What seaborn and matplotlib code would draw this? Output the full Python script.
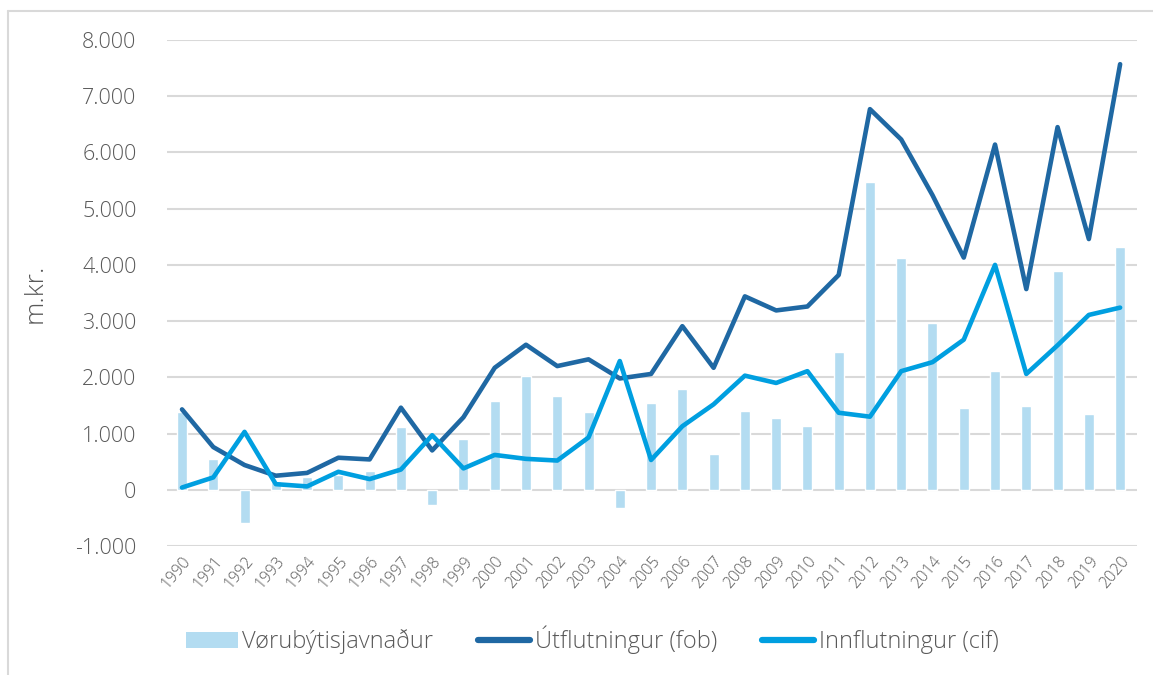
import numpy as np
import pandas as pd
import matplotlib
matplotlib.use("Agg")
import matplotlib.pyplot as plt
import seaborn as sns
from matplotlib.ticker import FuncFormatter
from matplotlib.lines import Line2D
from matplotlib.patches import Patch

years = [str(y) for y in range(1990, 2021)]
export_fob = [1430, 760, 440, 250, 300, 570, 540, 1460, 700, 1290,
              2170, 2580, 2200, 2320, 1980, 2060, 2910, 2170, 3440, 3190,
              3260, 3820, 6770, 6230, 5240, 4130, 6140, 3570, 6450, 4460, 7570]
import_cif = [40, 220, 1030, 100, 60, 320, 190, 360, 970, 380,
              620, 550, 520, 930, 2290, 530, 1130, 1520, 2030, 1900,
              2110, 1370, 1300, 2110, 2270, 2670, 4000, 2060, 2570, 3110, 3240]
balance = [1390, 540, -590, 150, 230, 260, 340, 1110, -270, 900,
           1580, 2030, 1660, 1380, -320, 1550, 1790, 640, 1400, 1270,
           1140, 2450, 5480, 4120, 2960, 1460, 2120, 1490, 3900, 1350, 4320]
y_ticks = [-1000, 0, 1000, 2000, 3000, 4000, 5000, 6000, 7000, 8000]
labels = ["Vørubýtisjavnaður", "Útflutningur (fob)", "Innflutningur (cif)"]
y_label = "m.kr."

c_bar = "#b3dcf1"
c_exp = "#1f68a3"
c_imp = "#009fe0"
c_txt = "#595959"

sns.set_theme(style="white")
plt.rcParams["font.family"] = ["Open Sans", "DejaVu Sans"]

df = pd.DataFrame({"year": years, "export": export_fob, "import": import_cif, "balance": balance})
df["pos"] = np.arange(len(df))

fig = plt.figure(figsize=(11.53, 6.75), dpi=100)
ax = fig.add_axes([167/1153, 1-546/675, (1137-167)/1153, (546-40)/675])

sns.barplot(data=df, x="year", y="balance", color=c_bar, width=0.32, ax=ax,
            saturation=1, zorder=2)
sns.lineplot(data=df, x="pos", y="export", color=c_exp, linewidth=3.3, ax=ax, zorder=3)
sns.lineplot(data=df, x="pos", y="import", color=c_imp, linewidth=3.3, ax=ax, zorder=4)

ax.set_ylim(y_ticks[0], y_ticks[-1])
ax.set_xlim(-0.48, len(years) - 0.46)
ax.set_yticks(y_ticks)
ax.yaxis.set_major_formatter(FuncFormatter(lambda v, p: f"{int(v):,}".replace(",", ".")))
ax.grid(axis="y", color="#d9d9d9", linewidth=1.5, zorder=0)
ax.set_axisbelow(True)
for s in ax.spines.values():
    s.set_visible(False)
ax.tick_params(axis="y", labelsize=15.5, colors=c_txt, length=0, pad=22)
ax.tick_params(axis="x", labelsize=11.5, colors=c_txt, length=0, pad=5)
ax.set_xticks(range(len(years)))
ax.set_xticklabels(years, rotation=50, ha="right", rotation_mode="anchor", fontweight="light")
for t in ax.get_yticklabels():
    t.set_fontweight("light")
ax.set_xlabel("")
ax.set_ylabel(y_label, fontsize=19, color=c_txt, labelpad=20, fontweight="light")

handles = [Patch(facecolor=c_bar, edgecolor="none"),
           Line2D([0], [0], color=c_exp, linewidth=4.5, solid_capstyle="round"),
           Line2D([0], [0], color=c_imp, linewidth=4.5, solid_capstyle="round")]
leg = fig.legend(handles, labels, loc="center", bbox_to_anchor=(592/1153, 1-640/675),
                 ncol=3, frameon=False, handlelength=2.2, handletextpad=0.2,
                 columnspacing=1.9, labelcolor=c_txt, prop={"weight": "light", "size": 17})

# outer chart frame
fig.add_artist(Line2D([8/1153, 8/1153], [0, 1-11/675], transform=fig.transFigure,
                      color="#d9d9d9", linewidth=1.5))
fig.add_artist(Line2D([8/1153, 1], [1-11/675, 1-11/675], transform=fig.transFigure,
                      color="#d9d9d9", linewidth=1.5))

fig.savefig("out.png", dpi=100)
